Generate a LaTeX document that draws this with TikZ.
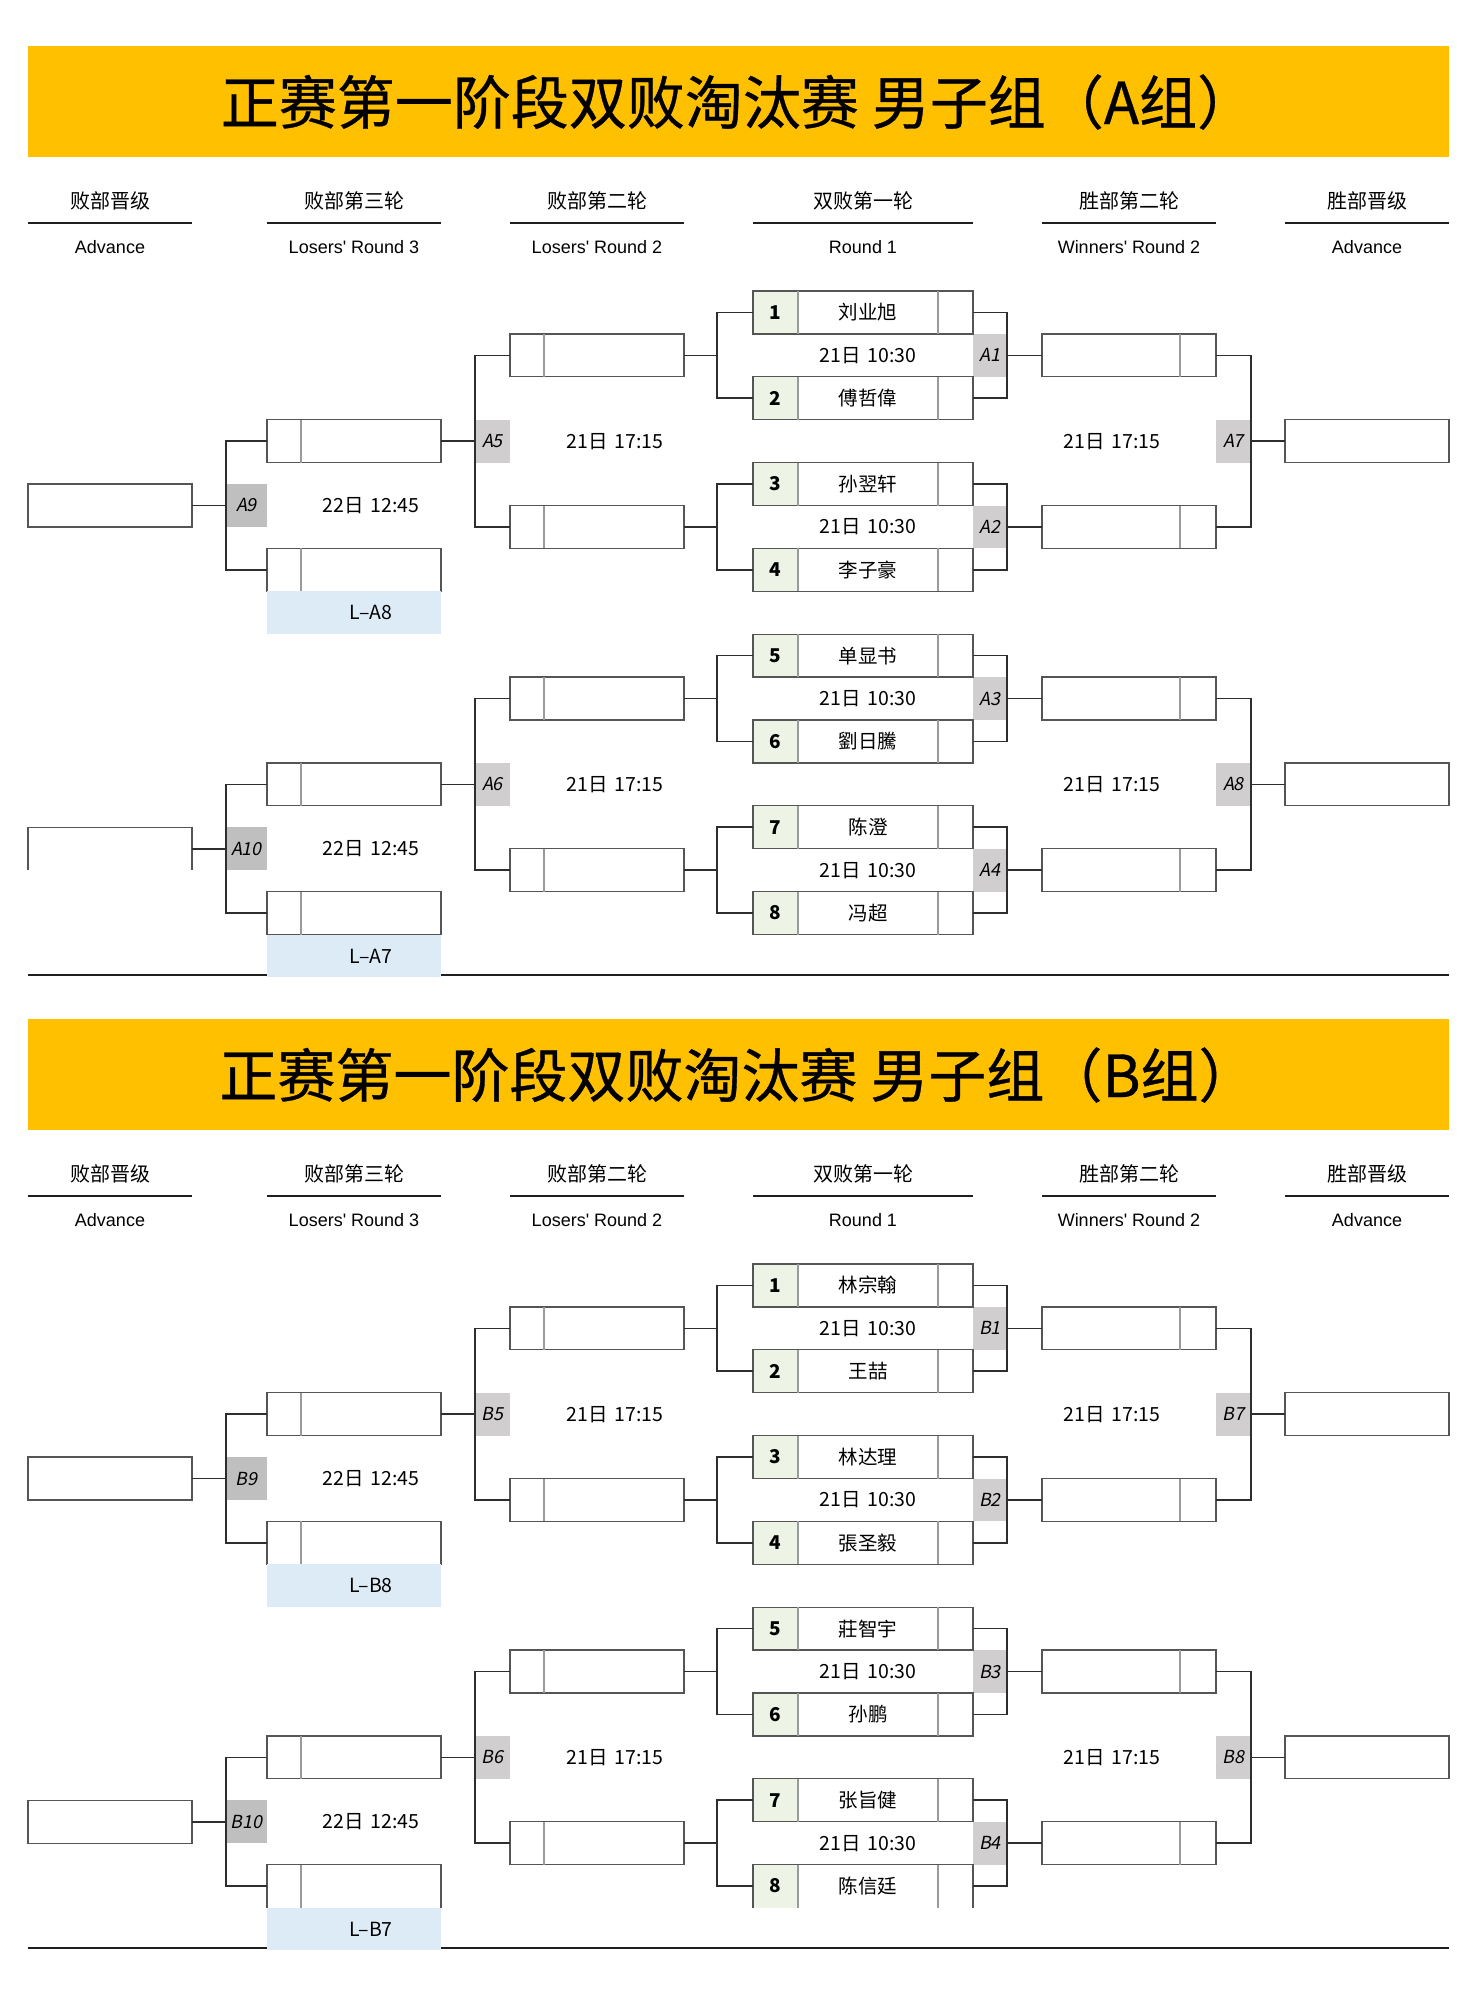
\documentclass[tikz,border=0pt]{standalone}
\usepackage{fontspec}
\setmainfont{Noto Sans CJK SC}
\newfontfamily\labfont[FakeSlant=0.2]{Noto Sans CJK SC}
\newfontfamily\titfont[FakeBold=0.6]{Noto Sans CJK SC}
\newfontfamily\enfont{Liberation Sans}
\definecolor{gold}{HTML}{FFC000}
\definecolor{seedg}{HTML}{EDF4E6}
\definecolor{labg}{HTML}{D0CECE}
\definecolor{labd}{HTML}{BFBFBF}
\definecolor{lblue}{HTML}{DDEBF7}
\definecolor{bord}{HTML}{555555}
\definecolor{divc}{HTML}{9A9A9A}
\definecolor{connc}{HTML}{2E2E2E}
\newcommand\gapsp{\hspace{0.34em}}
\tikzset{
 cellsty/.style={inner sep=0pt, outer sep=0pt, rectangle, font=\fontsize{19.5}{19.5}\selectfont, text=black},
 seedfill/.style={fill=seedg, font=\fontsize{19}{19}\selectfont\bfseries},
 labcell/.style={fill=labg, font=\labfont\fontsize{18}{18}\selectfont},
 labdark/.style={fill=labd, font=\labfont\fontsize{18}{18}\selectfont},
 bluecell/.style={fill=lblue},
 boxline/.style={draw=bord, line width=1.3pt},
 divline/.style={draw=divc, line width=1.3pt},
 conn/.style={draw=connc, line width=1.6pt},
 hdrline/.style={draw=black!88, line width=2pt},
 txt/.style={inner sep=0pt, font=\fontsize{19.5}{19.5}\selectfont},
 hcn/.style={inner sep=0pt, font=\fontsize{20}{20}\selectfont},
 hen/.style={inner sep=0pt, font=\enfont\fontsize{18}{18}\selectfont},
}
\newcommand\ry[1]{(\off+291+(#1)*42.9)}
\newcommand\cell[7]{\node[cellsty,#6,minimum width={(#4)-(#2)},minimum height={(#5)-(#3)}] (#1) at ({((#2)+(#4))/2},{((#3)+(#5))/2}) {#7};}
\newcommand\boxrect[3]{\if\relax\detokenize{#3}\relax\draw[boxline] (#1.north west) rectangle (#2.south east);\else\draw[boxline] (#1.south west) -- (#1.north west) -- (#2.north east) -- (#2.south east);\fi}
% round-1 match: #1 group, #2 offset, #3 k, #4 seed a, #5 name a, #6 seed b, #7 name b, #8 flag (no bottom)
\newcommand\rmatch[8]{%
 \def\off{#2}\pgfmathsetmacro\rr{4*(#3-1)}%
 \cell{#1m#3sa}{753}{\ry{\rr}}{798}{\ry{\rr+1}}{seedfill}{#4}
 \cell{#1m#3na}{798}{\ry{\rr}}{938}{\ry{\rr+1}}{}{#5}
 \cell{#1m#3ca}{938}{\ry{\rr}}{973}{\ry{\rr+1}}{}{}
 \cell{#1m#3d}{798}{\ry{\rr+1}}{938}{\ry{\rr+2}}{}{21日\gapsp10:30}
 \cell{#1m#3l}{973}{\ry{\rr+1}}{1007}{\ry{\rr+2}}{labcell}{#1#3}
 \cell{#1m#3sb}{753}{\ry{\rr+2}}{798}{\ry{\rr+3}}{seedfill}{#6}
 \cell{#1m#3nb}{798}{\ry{\rr+2}}{938}{\ry{\rr+3}}{}{#7}
 \cell{#1m#3cb}{938}{\ry{\rr+2}}{973}{\ry{\rr+3}}{}{}
 \boxrect{#1m#3sa}{#1m#3ca}{}
 \draw[divline] (#1m#3sa.north east) -- (#1m#3sa.south east) (#1m#3na.north east) -- (#1m#3na.south east);
 \boxrect{#1m#3sb}{#1m#3cb}{#8}
 \draw[divline] (#1m#3sb.north east) -- (#1m#3sb.south east) (#1m#3nb.north east) -- (#1m#3nb.south east);
 \coordinate (#1m#3j) at (717,{\ry{\rr+1.5}});
 \draw[conn] (#1m#3sa.west) -| (#1m#3j) |- (#1m#3sb.west);
 \draw[conn] (#1m#3ca.east) -| (#1m#3l.east) |- (#1m#3cb.east);
}
% section: #1 group, #2 offset, #3 flag left advance bottom (2nd), #4 flag LR3 box d
\newcommand\sect[4]{%
 \def\off{#2}%
 \node[fill=gold,inner sep=0,minimum width=1421,minimum height=111] (#1ban) at (738.5,{\off+101.5}) {};
 \node[inner sep=0,font=\titfont\fontsize{58}{58}\selectfont] (#1tit) at (738,{\off+102}) {正赛第一阶段双败淘汰赛 男子组（#1组）};
 \node[hcn] (#1h1) at (110,{\off+201}) {败部晋级};
 \node[hcn] (#1h2) at (354,{\off+201}) {败部第三轮};
 \node[hcn] (#1h3) at (597,{\off+201}) {败部第二轮};
 \node[hcn] (#1h4) at (863,{\off+201}) {双败第一轮};
 \node[hcn] (#1h5) at (1129,{\off+201}) {胜部第二轮};
 \node[hcn] (#1h6) at (1367,{\off+201}) {胜部晋级};
 \node[hen] (#1e1) at (110,{\off+247}) {Advance};
 \node[hen] (#1e2) at (354,{\off+247}) {Losers\char"0027\ Round 3};
 \node[hen] (#1e3) at (597,{\off+247}) {Losers\char"0027\ Round 2};
 \node[hen] (#1e4) at (863,{\off+247}) {Round 1};
 \node[hen] (#1e5) at (1129,{\off+247}) {Winners\char"0027\ Round 2};
 \node[hen] (#1e6) at (1367,{\off+247}) {Advance};
 \draw[hdrline] (28,{\off+223}) -- (192,{\off+223}) (267,{\off+223}) -- (441,{\off+223})
   (510,{\off+223}) -- (684,{\off+223}) (753,{\off+223}) -- (973,{\off+223})
   (1042,{\off+223}) -- (1216,{\off+223}) (1285,{\off+223}) -- (1449,{\off+223});
 \draw[hdrline] (28,{\off+975}) -- (1449,{\off+975});
 % losers round 2 and winners round 2 boxes
 \foreach \i/\rw in {a/1,b/5,c/9,d/13}{
  \cell{#1l2\i-s}{510}{\ry{\rw}}{544}{\ry{\rw+1}}{}{}
  \cell{#1l2\i-n}{544}{\ry{\rw}}{684}{\ry{\rw+1}}{}{}
  \boxrect{#1l2\i-s}{#1l2\i-n}{}
  \draw[divline] (#1l2\i-s.north east) -- (#1l2\i-s.south east);
  \cell{#1w2\i-n}{1042}{\ry{\rw}}{1180}{\ry{\rw+1}}{}{}
  \cell{#1w2\i-s}{1180}{\ry{\rw}}{1216}{\ry{\rw+1}}{}{}
  \boxrect{#1w2\i-n}{#1w2\i-s}{}
  \draw[divline] (#1w2\i-n.north east) -- (#1w2\i-n.south east);
 }
 \draw[conn] (#1l2a-n.east) -- (#1m1j);
 \draw[conn] (#1l2b-n.east) -- (#1m2j);
 \draw[conn] (#1l2c-n.east) -- (#1m3j);
 \draw[conn] (#1l2d-n.east) -- (#1m4j);
 \draw[conn] (#1m1l.east) -- (#1w2a-n.west);
 \draw[conn] (#1m2l.east) -- (#1w2b-n.west);
 \draw[conn] (#1m3l.east) -- (#1w2c-n.west);
 \draw[conn] (#1m4l.east) -- (#1w2d-n.west);
 \cell{#1l5}{475}{\ry{3}}{510}{\ry{4}}{labcell}{#15}
 \cell{#1l6}{475}{\ry{11}}{510}{\ry{12}}{labcell}{#16}
 \cell{#1l7}{1216}{\ry{3}}{1251}{\ry{4}}{labcell}{#17}
 \cell{#1l8}{1216}{\ry{11}}{1251}{\ry{12}}{labcell}{#18}
 \draw[conn] (#1l2a-s.west) -| (#1l5.west) |- (#1l2b-s.west);
 \draw[conn] (#1l2c-s.west) -| (#1l6.west) |- (#1l2d-s.west);
 \draw[conn] (#1w2a-s.east) -| (#1l7.east) |- (#1w2b-s.east);
 \draw[conn] (#1w2c-s.east) -| (#1l8.east) |- (#1w2d-s.east);
 \cell{#1ra}{1285}{\ry{3}}{1449}{\ry{4}}{}{}
 \cell{#1rb}{1285}{\ry{11}}{1449}{\ry{12}}{}{}
 \boxrect{#1ra}{#1ra}{}
 \boxrect{#1rb}{#1rb}{}
 \draw[conn] (#1l7.east) -- (#1ra.west);
 \draw[conn] (#1l8.east) -- (#1rb.west);
 % losers round 3
 \foreach \i/\rw in {a/3,b/6,c/11}{
  \cell{#1l3\i-s}{267}{\ry{\rw}}{301}{\ry{\rw+1}}{}{}
  \cell{#1l3\i-n}{301}{\ry{\rw}}{441}{\ry{\rw+1}}{}{}
  \boxrect{#1l3\i-s}{#1l3\i-n}{}
  \draw[divline] (#1l3\i-s.north east) -- (#1l3\i-s.south east);
 }
 \cell{#1l3d-s}{267}{\ry{14}}{301}{\ry{15}}{}{}
 \cell{#1l3d-n}{301}{\ry{14}}{441}{\ry{15}}{}{}
 \boxrect{#1l3d-s}{#1l3d-n}{#4}
 \draw[divline] (#1l3d-s.north east) -- (#1l3d-s.south east);
 \cell{#1bl1}{267}{\ry{7}}{441}{\ry{8}}{bluecell}{}
 \cell{#1bl2}{267}{\ry{15}}{441}{\ry{16}}{bluecell}{}
 \node[txt] (#1bt1) at (371,{\ry{7.5}}) {L–#18};
 \node[txt] (#1bt2) at (371,{\ry{15.5}}) {L–#17};
 \draw[conn] (#1l3a-n.east) -- (#1l5.west);
 \draw[conn] (#1l3c-n.east) -- (#1l6.west);
 \cell{#1l9}{226}{\ry{4.5}}{267}{\ry{5.5}}{labdark}{#19}
 \cell{#1l10}{226}{\ry{12.5}}{267}{\ry{13.5}}{labdark}{#110}
 \draw[conn] (#1l3a-s.west) -| (#1l9.west) |- (#1l3b-s.west);
 \draw[conn] (#1l3c-s.west) -| (#1l10.west) |- (#1l3d-s.west);
 \cell{#1la}{28}{\ry{4.5}}{192}{\ry{5.5}}{}{}
 \cell{#1lb}{28}{\ry{12.5}}{192}{\ry{13.5}}{}{}
 \boxrect{#1la}{#1la}{}
 \boxrect{#1lb}{#1lb}{#3}
 \draw[conn] (#1la.east) -- (#1l9.west);
 \draw[conn] (#1lb.east) -- (#1l10.west);
 % times
 \node[txt] (#1t1) at (615,{\ry{3.5}}) {21日\gapsp17:15};
 \node[txt] (#1t2) at (1112,{\ry{3.5}}) {21日\gapsp17:15};
 \node[txt] (#1t3) at (615,{\ry{11.5}}) {21日\gapsp17:15};
 \node[txt] (#1t4) at (1112,{\ry{11.5}}) {21日\gapsp17:15};
 \node[txt] (#1t5) at (371,{\ry{5}}) {22日\gapsp12:45};
 \node[txt] (#1t6) at (371,{\ry{13}}) {22日\gapsp12:45};
}
\begin{document}
\begin{tikzpicture}[x=1pt,y=-1pt]
\useasboundingbox[fill=white] (0,0) rectangle (1478,1998);
\rmatch{A}{0}{1}{1}{刘业旭}{2}{傅哲偉}{}
\rmatch{A}{0}{2}{3}{孙翌轩}{4}{李子豪}{}
\rmatch{A}{0}{3}{5}{单显书}{6}{劉日騰}{}
\rmatch{A}{0}{4}{7}{陈澄}{8}{冯超}{}
\sect{A}{0}{x}{}
\rmatch{B}{973}{1}{1}{林宗翰}{2}{王喆}{}
\rmatch{B}{973}{2}{3}{林达理}{4}{張圣毅}{}
\rmatch{B}{973}{3}{5}{莊智宇}{6}{孙鹏}{}
\rmatch{B}{973}{4}{7}{张旨健}{8}{陈信廷}{x}
\sect{B}{973}{}{x}
\end{tikzpicture}
\end{document}
